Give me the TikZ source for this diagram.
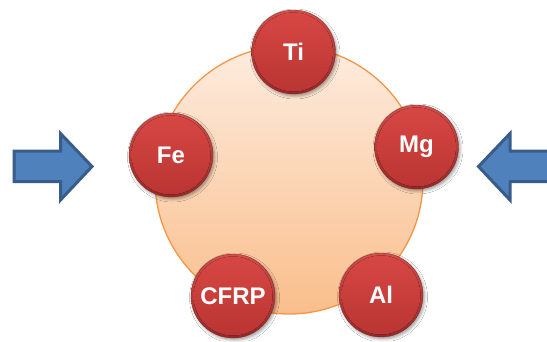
\documentclass[tikz,border=0pt]{standalone}
\usepackage{fontspec}
\setmainfont{Liberation Sans}
\usetikzlibrary{shadows.blur}
\definecolor{ballTop}{RGB}{216,72,68}
\definecolor{ballBot}{RGB}{184,52,50}
\definecolor{rimTop}{RGB}{212,80,76}
\definecolor{rimBot}{RGB}{150,40,40}
\definecolor{coreTop}{RGB}{253,236,223}
\definecolor{coreBot}{RGB}{250,190,140}
\definecolor{coreLine}{RGB}{245,150,70}
\definecolor{arrFill}{RGB}{79,129,189}
\definecolor{arrLine}{RGB}{56,93,138}
\tikzset{
  ball/.style={circle, minimum size=84pt, inner sep=0pt,
    top color=rimTop, bottom color=rimBot, draw=rimBot!85!black, line width=0.3pt,
    text=white, font=\fontsize{24}{28}\selectfont\bfseries,
    blur shadow={shadow xshift=1.5pt, shadow yshift=-2pt, shadow blur radius=3pt, shadow opacity=40},
    path picture={\fill[top color=ballTop, bottom color=ballBot]
      (path picture bounding box.center) circle (39.5pt);}},
  core/.style={circle, minimum size=268pt, inner sep=0pt,
    top color=coreTop, bottom color=coreBot, draw=coreLine, line width=1.3pt},
  bigarrow/.style={fill=arrFill, draw=arrLine, line width=3pt, line join=miter}
}
\begin{document}
\begin{tikzpicture}[x=1pt,y=-1pt]
\useasboundingbox (0,0) rectangle (547,341);
\clip (0,0) rectangle (547,341);
\fill[white] (0,0) rectangle (547,341);
\node[core] (core) at (289,180) {};
\node[ball] (ti) at (293.5,52) {Ti};
\node[ball] (fe) at (171,155) {Fe};
\node[ball] (mg) at (416.5,147) {Mg};
\node[ball] (cfrp) at (233,296) {CFRP};
\node[ball] (al) at (381,295) {Al};
\draw[bigarrow] (14,151) -- (60.5,151) -- (60.5,133.5) -- (92,166.5) -- (60.5,200) -- (60.5,181.5) -- (14,181.5) -- cycle;
\draw[bigarrow] (560,151) -- (510,151) -- (510,133.5) -- (478.5,166.5) -- (510,200) -- (510,181.5) -- (560,181.5) -- cycle;
\end{tikzpicture}
\end{document}
